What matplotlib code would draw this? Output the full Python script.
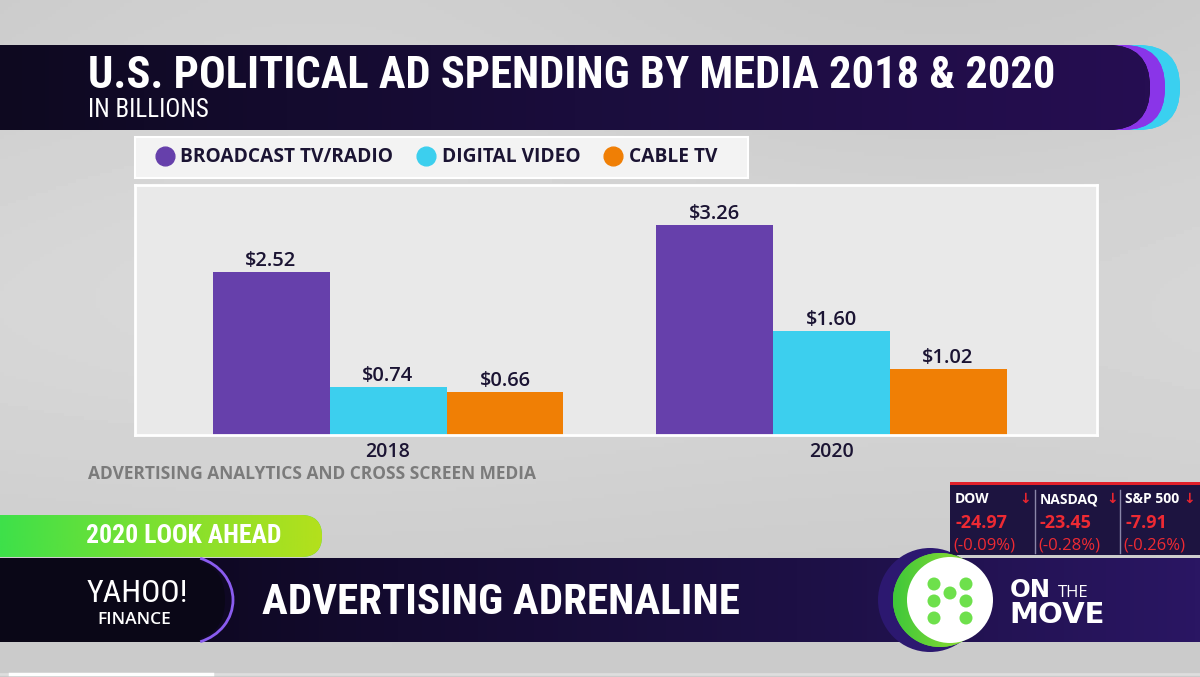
import matplotlib
matplotlib.use("Agg")
import matplotlib.pyplot as plt
import numpy as np
from matplotlib import font_manager
from matplotlib.patches import FancyBboxPatch, Rectangle, Circle, Arc
from matplotlib.lines import Line2D
from matplotlib.colors import LinearSegmentedColormap

# data
years = ["2018", "2020"]
media = ["BROADCAST TV/RADIO", "DIGITAL VIDEO", "CABLE TV"]
broadcast = [2.52, 3.26]
digital = [0.74, 1.60]
cable = [0.66, 1.02]

tickers = ["DOW", "NASDAQ", "S&P 500"]
ticker_change = ["-24.97", "-23.45", "-7.91"]
ticker_pct = ["(-0.09%)", "(-0.28%)", "(-0.26%)"]

bar_colors = ["#6640ab", "#3ccfee", "#f07f05"]
text_dark = "#1b1433"

# look for a narrow face for the TV captions, else plain DejaVu
fonts = font_manager.fontManager.ttflist
installed = {f.name for f in fonts}
narrow, narrow_stretch = "DejaVu Sans", "normal"
for pref in ["Roboto Condensed", "Liberation Sans Narrow", "Open Sans Condensed", "DejaVu Sans Condensed"]:
    if pref in installed:
        narrow = pref
        break
else:
    cond = [f for f in fonts if "Narrow" in f.name or "Condensed" in f.name
            or f.stretch in ("condensed", "semi-condensed")]
    if cond:
        narrow, narrow_stretch = cond[0].name, cond[0].stretch
sans = "Open Sans" if "Open Sans" in installed else "DejaVu Sans"

W, H = 1200, 677
fig = plt.figure(figsize=(12, 6.77), dpi=100)
bg = fig.add_axes([0, 0, 1, 1])
bg.axis("off")


def gradient_fill(patch, colors, x0, x1, y0, y1, z):
    patch.set_zorder(z)
    bg.add_patch(patch)
    cmap = LinearSegmentedColormap.from_list("g", colors)
    im = bg.imshow(np.linspace(0, 1, 256)[None, :], cmap=cmap,
                   extent=(x0, x1, y1, y0), aspect="auto", zorder=z + 0.1)
    im.set_clip_path(patch)


def fit(t, width_px, max_size):
    r = fig.canvas.get_renderer()
    w = t.get_window_extent(r).width
    t.set_fontsize(min(t.get_fontsize() * width_px / w, max_size))


def caption(x, y, s, size, width_px, max_size, bold=True):
    t = bg.text(x, y, s, color="white", fontsize=size, family=narrow, fontstretch=narrow_stretch,
                fontweight="bold" if bold else "normal", va="baseline", zorder=5)
    fit(t, width_px, max_size)
    return t


# studio background
yy = np.linspace(0, 1, 200)[:, None]
xx = np.linspace(0, 1, 300)[None, :]
back = 0.79 + 0.05 * np.exp(-((yy - 0.45) / 0.35) ** 2) + 0.015 * np.sin(xx * 6) * (1 - yy)
bg.imshow(back, cmap="gray", vmin=0, vmax=1, extent=(0, W, H, 0), aspect="auto", zorder=0)

# title band
gradient_fill(FancyBboxPatch((-80, 45), 1260, 85, boxstyle="round,pad=0,rounding_size=42",
                             fc="#3ad0f0", ec="none"), ["#3ad0f0", "#3ad0f0"], -80, 1180, 45, 130, 1)
gradient_fill(FancyBboxPatch((-80, 45), 1245, 85, boxstyle="round,pad=0,rounding_size=42",
                             fc="#8a35e8", ec="none"), ["#8a35e8", "#8a35e8"], -80, 1165, 45, 130, 1.5)
gradient_fill(FancyBboxPatch((-80, 45), 1230, 85, boxstyle="round,pad=0,rounding_size=42",
                             fc="#100a24", ec="none"), ["#0e0920", "#1a0d3c", "#260e52"], 0, 1150, 45, 130, 2)

caption(88, 88, "U.S. POLITICAL AD SPENDING BY MEDIA 2018 & 2020", 31, 1030, 32)
caption(88, 117, "IN BILLIONS", 18, 144, 18, bold=False)

# legend box
bg.add_patch(Rectangle((135, 137), 613, 41, fc="#f3f3f3", ec="white", lw=1.5, zorder=3))

# source
t = bg.text(88, 474, "ADVERTISING ANALYTICS AND CROSS SCREEN MEDIA", color="#7b7b7b",
            fontsize=12, fontweight="bold", family=sans, va="center", zorder=5)
fit(t, 449, 14)

# green tag
gradient_fill(FancyBboxPatch((-80, 515), 402, 42, boxstyle="round,pad=0,rounding_size=21",
                             fc="#40e048", ec="none"), ["#3ee04a", "#7ee030", "#b4e01c"], 0, 322, 515, 557, 2)
caption(86, 543, "2020 LOOK AHEAD", 16.5, 204, 18.5)

# bottom band
gradient_fill(Rectangle((0, 558), W, 84, fc="#150c30", ec="none"),
              ["#0a0616", "#140b30", "#1d1045", "#2a1663"], 0, W, 558, 642, 2)
bg.add_patch(Rectangle((0, 558), 200, 84, fc="#0a0717", ec="none", zorder=2.5))
bg.add_patch(FancyBboxPatch((150, 560), 75, 80, boxstyle="round,pad=0,rounding_size=40",
                            fc="#0a0717", ec="none", zorder=2.5))
bg.add_patch(Arc((185, 600), 96, 88, theta1=-70, theta2=70, color="#8a5cf0", lw=2, zorder=3))

caption(87, 602, "YAHOO!", 23, 110, 23, bold=False)
t = bg.text(97, 623.5, "FINANCE", color="white", fontsize=12.5, fontweight="semibold",
            family=sans, va="baseline", zorder=5)
fit(t, 90, 12.5)
caption(262, 614, "ADVERTISING ADRENALINE", 28.5, 486, 31)

# on the move badge
bg.add_patch(Circle((930, 600), 52, fc="#2c1870", ec="none", zorder=3))
gradient_fill(Circle((940, 600), 47, fc="#5fd83c", ec="none"),
              ["#3ec83a", "#a8e030"], 893, 990, 553, 647, 3.2)
bg.add_patch(Circle((950, 600), 43, fc="white", ec="none", zorder=4))
dot_x = [934, 966, 950, 934, 966, 934, 966]
dot_y = [584, 584, 593, 601, 601, 618, 618]
for dx, dy in zip(dot_x, dot_y):
    bg.add_patch(Circle((dx, dy), 6.5, fc="#6ee04c", ec="none", zorder=4.5))
bg.text(1010, 597, "ON", color="white", fontsize=17.5, fontweight="bold", family="DejaVu Sans",
        va="baseline", zorder=5)
bg.text(1058, 597, "THE", color="white", fontsize=12, family=sans, va="baseline", zorder=5)
bg.text(1009, 623, "MOVE", color="white", fontsize=21, fontweight="bold", family="DejaVu Sans",
        va="baseline", zorder=5)

# ticker box
bg.add_patch(Rectangle((950, 483), 250, 72, fc="#1d1440", ec="none", zorder=3))
bg.add_patch(Rectangle((950, 482), 250, 3, fc="#e0202a", ec="none", zorder=3.5))
for sx in [1035, 1120]:
    bg.plot([sx, sx], [490, 553], color="#8a86a8", lw=1, zorder=4)
col_x = [955, 1040, 1125]
arrow_x = [1025, 1112, 1189]
for cx, ax_, name, chg, pct in zip(col_x, arrow_x, tickers, ticker_change, ticker_pct):
    bg.text(cx, 503, name, color="white", fontsize=10, fontweight="bold", family=sans,
            va="baseline", zorder=5)
    bg.text(ax_, 503, "\u2193", color="#e8252f", fontsize=10, fontweight="bold",
            family="DejaVu Sans", ha="center", va="baseline", zorder=5)
    bg.text(cx, 528, chg, color="#ee2a33", fontsize=13, fontweight="bold", family=sans,
            va="baseline", zorder=5)
    bg.text(cx - 2, 549, pct, color="#ee2a33", fontsize=12, family=sans, va="baseline", zorder=5)

# progress bar
bg.plot([0, W], [674, 674], color="#dedede", lw=2, zorder=3)
bg.plot([10, 212], [674, 674], color="white", lw=2.5, zorder=3.5)

bg.set_xlim(0, W)
bg.set_ylim(H, 0)

# chart
ax = fig.add_axes([135 / W, 1 - 434.5 / H, 962 / W, 249.5 / H])
ax.set_facecolor("#e9e9e9")
for s in ax.spines.values():
    s.set_color("white")
    s.set_linewidth(2)

x = np.arange(len(years))
width = 0.264
series = [broadcast, digital, cable]
for i, (vals, col) in enumerate(zip(series, bar_colors)):
    bars = ax.bar(x + (i - 1) * width, vals, width, color=col, zorder=2)
    for b, v in zip(bars, vals):
        ax.annotate("$%.2f" % v, (b.get_x() + b.get_width() / 2, v), xytext=(0, 4.3),
                    textcoords="offset points", ha="center", va="baseline",
                    fontsize=14.5, fontweight="semibold", family=sans, color=text_dark)

ax.set_xlim(-0.571, 1.600)
ax.set_ylim(0, 3.874)
ax.set_yticks([])
ax.set_xticks(x, years)
ax.tick_params(axis="x", length=0, pad=5.5, labelsize=14, labelcolor=text_dark)
for lab in ax.get_xticklabels():
    lab.set_fontweight("semibold")
    lab.set_family(sans)

# legend
handles = [Line2D([], [], marker="o", ls="none", markersize=13.5, color=c) for c in bar_colors]
leg = fig.legend(handles, media, loc="center left", bbox_to_anchor=(155 / W, 1 - 157.5 / H),
                 ncol=3, frameon=False, borderpad=0, borderaxespad=0, handlelength=1.0,
                 handletextpad=0.33, columnspacing=1.2,
                 prop={"family": sans, "weight": "bold", "size": 13.8})
for txt in leg.get_texts():
    txt.set_color(text_dark)

fig.savefig("out.png", dpi=100)
